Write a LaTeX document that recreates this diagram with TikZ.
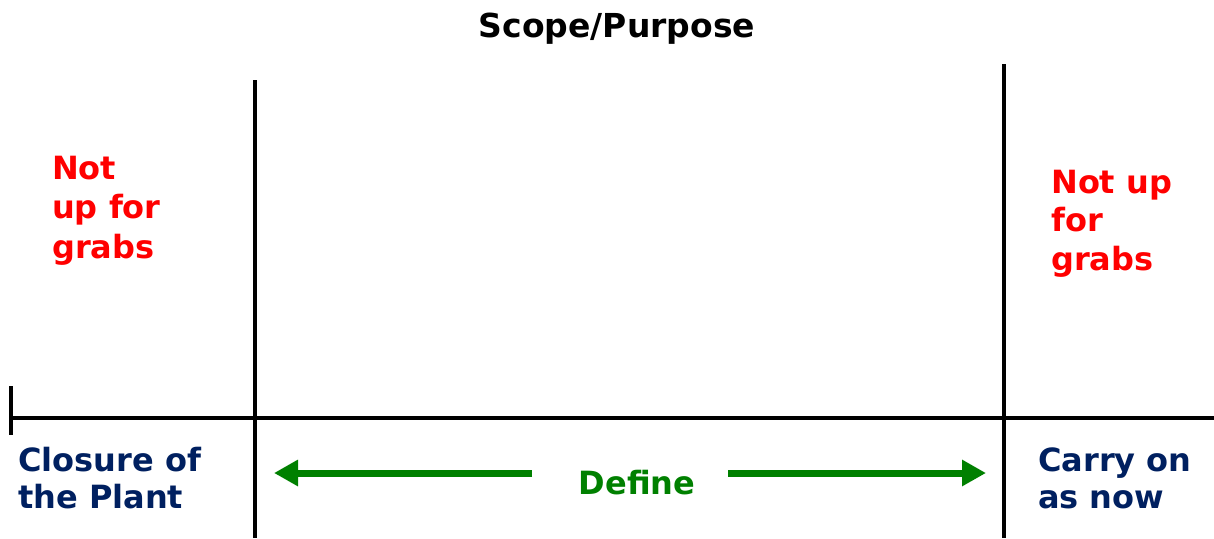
\documentclass[tikz,border=0pt]{standalone}
\usepackage{fontspec}
\setmainfont{DejaVu Sans}
\usetikzlibrary{arrows.meta}
\definecolor{labelred}{HTML}{FF0000}
\definecolor{labelnavy}{HTML}{002060}
\definecolor{labelgreen}{HTML}{008000}
\begin{document}
\begin{tikzpicture}[x=1pt,y=-1pt,
  rule/.style={line width=3.7pt,black},
  lbl/.style={inner sep=0pt,anchor=base west,align=left,font=\fontsize{32}{39.5}\selectfont\bfseries},
  redlbl/.style={lbl,text=labelred},
  navylbl/.style={lbl,text=labelnavy,font=\fontsize{32}{37}\selectfont\bfseries},
  greenarrow/.style={line width=7pt,labelgreen,-{Triangle[length=24pt,width=25pt]}}]
\useasboundingbox (0,0) rectangle (1214,538);

% frame lines
\coordinate (lt) at (255,80);
\coordinate (lb) at (255,538);
\coordinate (rt) at (1004,64);
\coordinate (rb) at (1004,538);
\coordinate (hl) at (9.5,418);
\coordinate (hr) at (1214,418);
\coordinate (tt) at (11.3,386);
\coordinate (tb) at (11.3,435);
\draw[rule] (lt) -- (lb);
\draw[rule] (rt) -- (rb);
\draw[rule] (hl) -- (hr);
\draw[rule] (tt) -- (tb);

% labels (multi-line nodes are placed by the baseline of their last line)
\node[lbl,anchor=base,text=black,font=\fontsize{33}{39}\selectfont\bfseries] (title) at (617,37) {Scope/Purpose};
\node[redlbl] (leftred) at (52,258) {Not\\up for\\grabs};
\node[redlbl,font=\fontsize{32}{38.5}\selectfont\bfseries] (rightred) at (1051,270) {Not up\\for\\grabs};
\node[navylbl] (closure) at (18,508) {Closure of\\the Plant};
\node[navylbl] (carry) at (1038,508) {Carry on\\as now};
\node[lbl,anchor=base,text=labelgreen] (define) at (637,494) {Define};

% define arrows
\coordinate (al) at (532,473);
\coordinate (atl) at (274,473);
\coordinate (ar) at (728,473);
\coordinate (atr) at (986,473);
\draw[greenarrow] (al) -- (atl);
\draw[greenarrow] (ar) -- (atr);
\end{tikzpicture}
\end{document}
